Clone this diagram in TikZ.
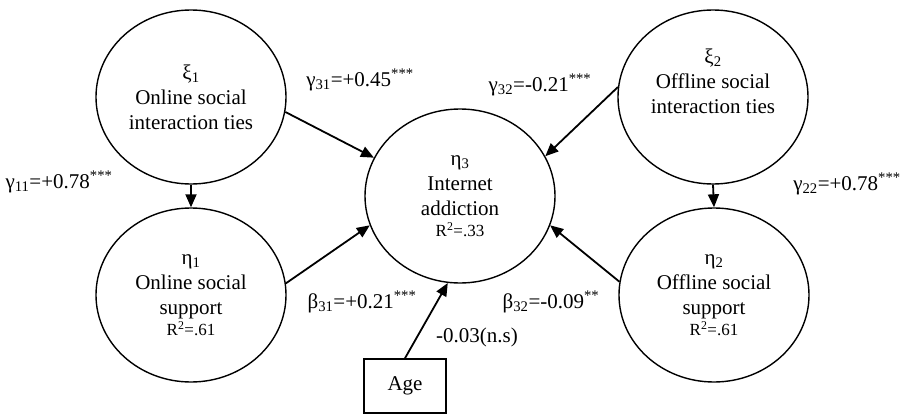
\documentclass[tikz,border=0pt]{standalone}
\usepackage{fontspec}
\setmainfont{Liberation Serif}
\usetikzlibrary{shapes.geometric,arrows.meta}
\newcommand{\rsqtext}[1]{{\fontsize{17}{19}\selectfont R\textsuperscript{2}=#1}}
\begin{document}
\begin{tikzpicture}[x=1pt,y=-1pt,
  lat/.style={draw,ellipse,line width=1.4pt,minimum width=190pt,minimum height=174pt,
    inner sep=0pt,align=center,font=\fontsize{21}{25}\selectfont},
  conn/.style={line width=1.8pt,-{Triangle[length=13pt,width=11pt]}},
  coef/.style={font=\fontsize{21}{25}\selectfont,inner sep=0pt},
  obs/.style={draw,rectangle,line width=1.6pt,minimum width=82pt,minimum height=54pt,
    inner sep=0pt,font=\fontsize{21}{25}\selectfont}]
\useasboundingbox[fill=white] (0,0) rectangle (902,415);

\node[lat] (xi1) at (191,97) {ξ\textsubscript{1}\\Online social\\interaction ties};
\node[lat] (eta1) at (191,295) {η\textsubscript{1}\\Online social\\support\\[-4pt]\rsqtext{.61}};
\node[lat] (eta3) at (460,196) {η\textsubscript{3}\\Internet\\addiction\\[-4pt]\rsqtext{.33}};
\node[lat] (xi2) at (713,97) {ξ\textsubscript{2}\\Offline social\\interaction ties\\[6pt]};
\node[lat] (eta2) at (714,295) {η\textsubscript{2}\\Offline social\\support\\[-4pt]\rsqtext{.61}};
\node[obs] (age) at (405,386) {Age};

\draw[conn] (xi1.south) -- (eta1.north);
\draw[conn] (xi2.south) -- (eta2.north);
\draw[conn] (xi1.-9.6) -- (eta3.156.4);
\draw[conn] (eta1.7.2) -- (eta3.198.8);
\draw[conn] (xi2.174) -- (eta3.25.7);
\draw[conn] (eta2.172.8) -- (eta3.-18.6);
\draw[conn] (age.north) -- (eta3.262);

\node[coef] (g31) at (360,80) {γ\textsubscript{31}=+0.45\textsuperscript{***}};
\node[coef] (g11) at (59,182) {γ\textsubscript{11}=+0.78\textsuperscript{***}};
\node[coef] (g32) at (540,85) {γ\textsubscript{32}=-0.21\textsuperscript{***}};
\node[coef] (g22) at (847,184) {γ\textsubscript{22}=+0.78\textsuperscript{***}};
\node[coef] (b31) at (362,302) {β\textsubscript{31}=+0.21\textsuperscript{***}};
\node[coef] (b32) at (551,302) {β\textsubscript{32}=-0.09\textsuperscript{**}};
\node[coef] (age3) at (477,337) {-0.03(n.s)};
\end{tikzpicture}
\end{document}
